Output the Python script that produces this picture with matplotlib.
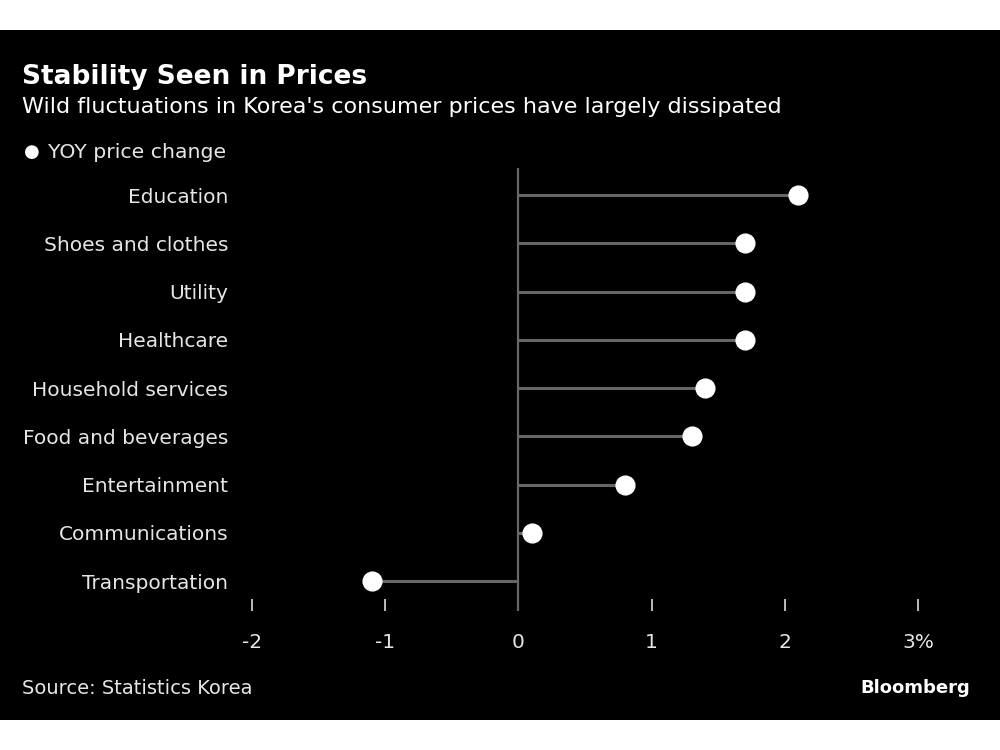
import matplotlib
matplotlib.use("Agg")
import matplotlib.pyplot as plt
from matplotlib.patches import Rectangle

# YOY consumer price change by category, %
categories = ["Education", "Shoes and clothes", "Utility", "Healthcare",
              "Household services", "Food and beverages", "Entertainment",
              "Communications", "Transportation"]
values = [2.1, 1.7, 1.7, 1.7, 1.4, 1.3, 0.8, 0.1, -1.1]
xticks = [-2, -1, 0, 1, 2, 3]
xticklabels = ["-2", "-1", "0", "1", "2", "3%"]

fig = plt.figure(figsize=(10, 7.5), dpi=100, facecolor="white")

# black panel, white bands at top and bottom
fig.patches.append(Rectangle((0, 30/750), 1, 690/750, transform=fig.transFigure,
                             facecolor="black", edgecolor="none", zorder=-5))

ax = fig.add_axes([0.252, 1 - 611/750, 0.666, (611 - 168)/750])
ax.set_facecolor("none")
ax.set_zorder(2)

ypos = list(range(len(categories)))
ax.hlines(ypos, 0, values, color="#666666", linewidth=2.2, zorder=2)
ax.axvline(0, color="#666666", linewidth=1.6, zorder=2)
ax.plot(values, ypos, "o", color="white", markersize=13.5, zorder=3, clip_on=False)

ax.set_xlim(-2, 3)
ax.set_ylim(8.62, -0.56)

ax.set_yticks(ypos)
ax.set_yticklabels(categories, fontsize=14.5, color="#e6e6e6", va="center_baseline")
ax.tick_params(axis="y", length=0, pad=17)

ax.set_xticks(xticks)
ax.set_xticklabels(xticklabels, fontsize=14.5, color="#e6e6e6")
ax.tick_params(axis="x", direction="in", length=9, width=1.2, color="#dddddd", pad=15.5)

for s in ax.spines.values():
    s.set_visible(False)

fig.text(0.022, 1 - 77/750, "Stability Seen in Prices", fontsize=19, fontweight="bold",
         color="white", va="center")
fig.text(0.022, 1 - 107/750, "Wild fluctuations in Korea's consumer prices have largely dissipated",
         fontsize=16, color="white", va="center")

# legend
fig.text(0.032, 1 - 152/750, "\u25cf", fontsize=13, color="white", va="center", ha="center")
fig.text(0.048, 1 - 152/750, "YOY price change", fontsize=14.7, color="#e6e6e6", va="center")

fig.text(0.022, 1 - 688/750, "Source: Statistics Korea", fontsize=14, color="#e6e6e6", va="center")
fig.text(0.970, 1 - 688/750, "Bloomberg", fontsize=13, fontweight="bold", color="white",
         va="center", ha="right")

fig.savefig("out.png", dpi=100, facecolor=fig.get_facecolor())
